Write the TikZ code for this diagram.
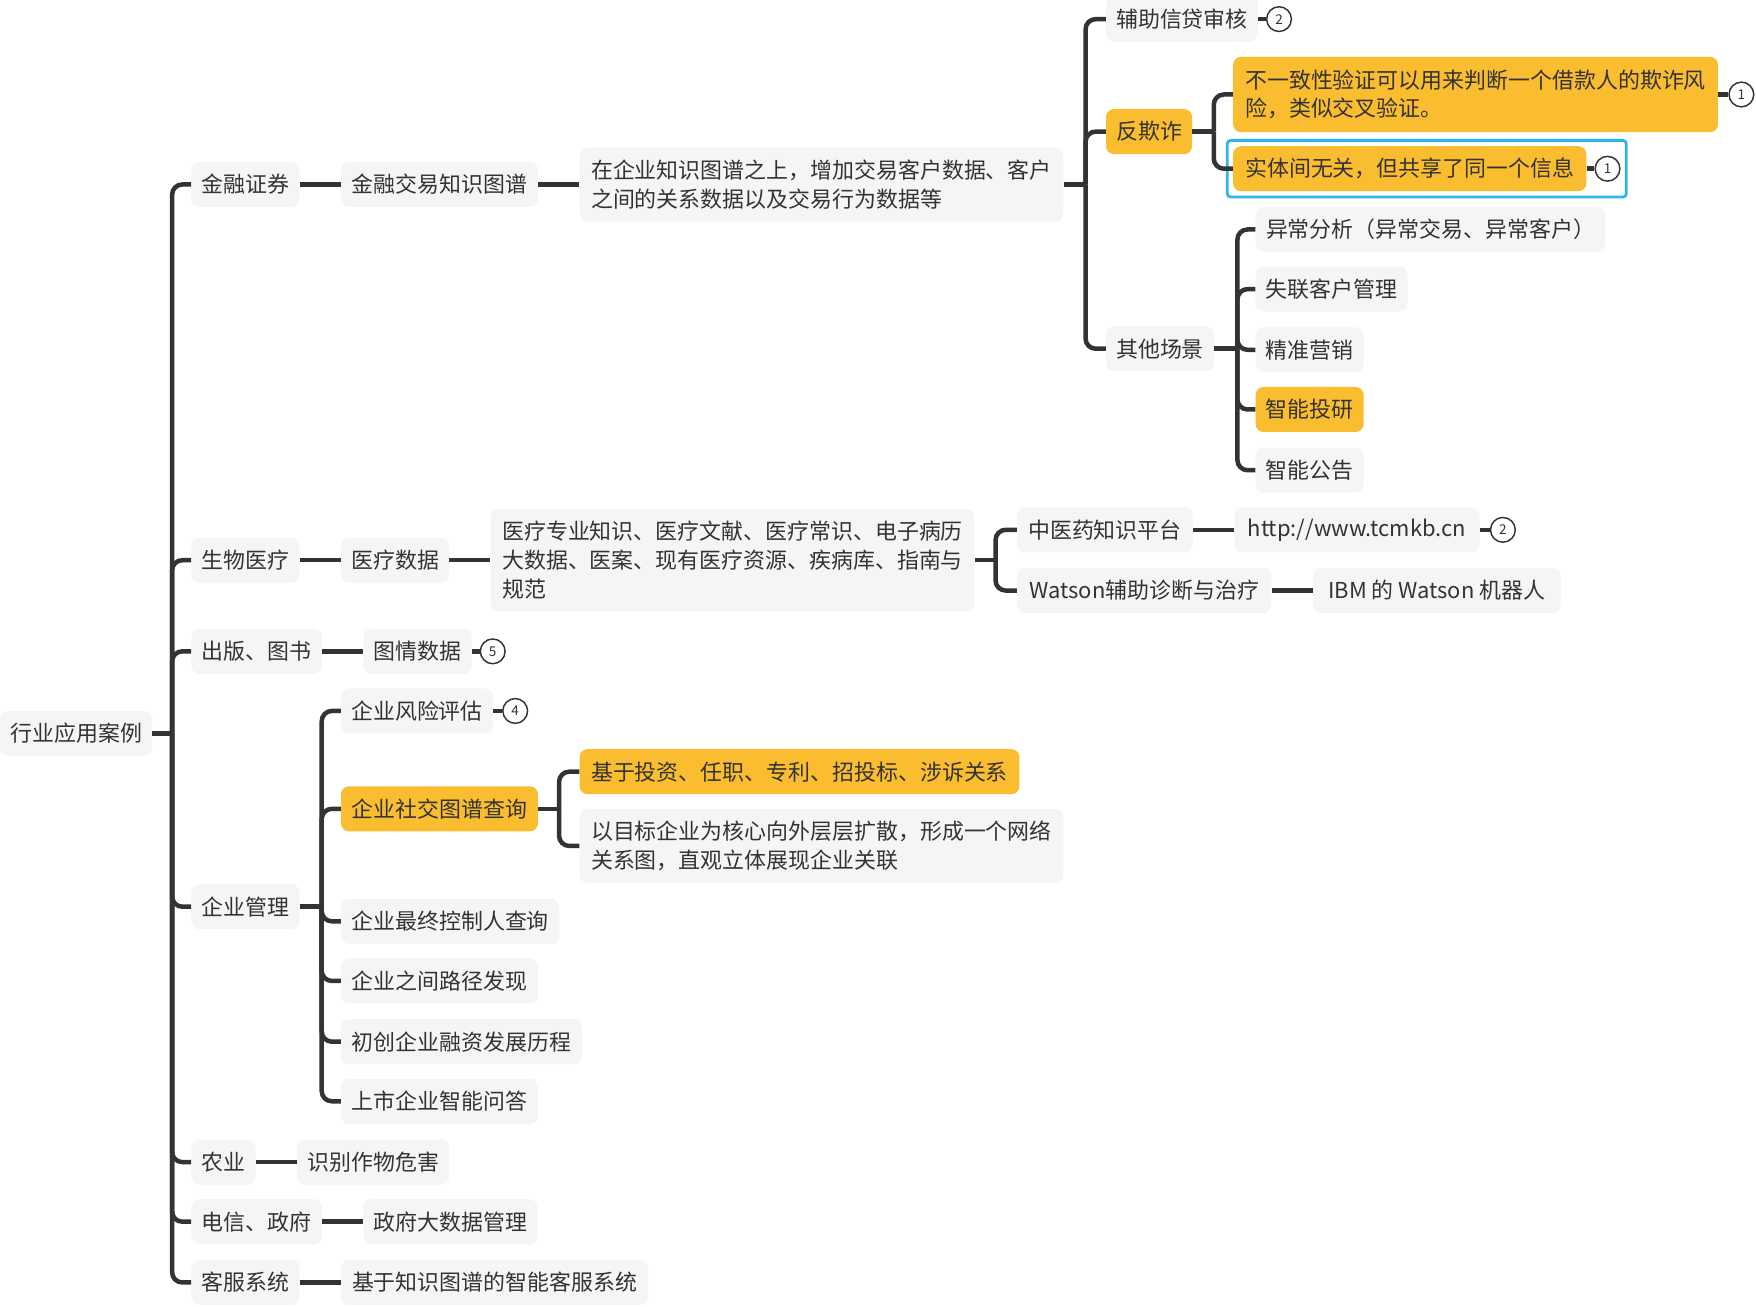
\documentclass[tikz,border=0pt]{standalone}
\usepackage{fontspec}
\setmainfont{Noto Sans CJK SC}
\usetikzlibrary{fit}
\definecolor{boxfill}{HTML}{F5F5F5}
\definecolor{orng}{HTML}{FBBD30}
\definecolor{txt}{HTML}{333333}
\definecolor{lnc}{HTML}{333333}
\definecolor{selblue}{HTML}{2DB6EA}
\tikzset{
 box/.style={draw=none, fill=boxfill, rounded corners=7pt, anchor=west, minimum height=40pt, inner xsep=9pt, inner ysep=4pt, text=txt, font=\fontsize{19.5pt}{25.5pt}\selectfont, align=left},
 obox/.style={box, fill=orng},
 conn/.style={draw=lnc, line width=4pt, rounded corners=9pt},
 badge/.style={circle, draw=lnc, line width=1.3pt, fill=white, minimum size=22pt, inner sep=0pt, font=\fontsize{12pt}{12pt}\selectfont, text=txt},
 sel/.style={draw=selblue, line width=2.5pt, rounded corners=3pt, inner sep=5pt},
}
\begin{document}
\begin{tikzpicture}[x=1pt,y=-1pt]
\useasboundingbox (0,0) rectangle (1561,1161);
% root
\node[box, minimum width=133] (root) at (0,652) {行业应用案例};
% level 1
\node[box, minimum width=95] (a1) at (170,164) {金融证券};
\node[box, minimum width=95] (a2) at (170,498) {生物医疗};
\node[box, minimum width=116] (a3) at (170,579) {出版、图书};
\node[box, minimum width=95] (a4) at (170,806) {企业管理};
\node[box, minimum width=56] (a5) at (170,1033) {农业};
\node[box, minimum width=116] (a6) at (170,1086) {电信、政府};
\node[box, minimum width=95] (a7) at (170,1140) {客服系统};
% finance
\node[box, minimum width=175] (b1) at (303,164) {金融交易知识图谱};
\node[box, minimum width=430, minimum height=66] (b1t) at (515,164) {在企业知识图谱之上，增加交易客户数据、客户\\之间的关系数据以及交易行为数据等};
\node[box, minimum width=135] (e1) at (983,17) {辅助信贷审核};
\node[badge] (be1) at (1137,17) {2};
\node[obox, minimum width=75] (e2) at (983,117) {反欺诈};
\node[obox, minimum width=431, minimum height=67] (e21) at (1096,84) {不一致性验证可以用来判断一个借款人的欺诈风\\险，类似交叉验证。};
\node[badge] (be21) at (1548,84) {1};
\node[obox, minimum width=314] (e22) at (1096,150) {实体间无关，但共享了同一个信息};
\node[badge] (be22) at (1429,150) {1};
\node[sel, fit=(e22)(be22)] (selrect) {};
\node[box, minimum width=95] (e3) at (983,310) {其他场景};
\node[box, minimum width=311] (f1) at (1116,204) {异常分析（异常交易、异常客户）};
\node[box, minimum width=133] (f2) at (1116,257) {失联客户管理};
\node[box, minimum width=94] (f3) at (1116,311) {精准营销};
\node[obox, minimum width=94] (f4) at (1116,364) {智能投研};
\node[box, minimum width=94] (f5) at (1116,418) {智能公告};
% medical
\node[box, minimum width=95] (b2) at (303,498) {医疗数据};
\node[box, minimum width=430, minimum height=91] (b2t) at (436,498) {医疗专业知识、医疗文献、医疗常识、电子病历\\大数据、医案、现有医疗资源、疾病库、指南与\\规范};
\node[box, minimum width=156] (g1) at (904,471) {中医药知识平台};
\node[box, minimum width=218] (g11) at (1097,471) {http://www.tcmkb.cn};
\node[badge] (bg11) at (1336,471) {2};
\node[box, minimum width=226] (g2) at (904,525) {Watson辅助诊断与治疗};
\node[box, minimum width=220] (g21) at (1167,525) {IBM 的 Watson 机器人};
% publishing
\node[box, minimum width=95] (b3) at (323,579) {图情数据};
\node[badge] (bb3) at (438,579) {5};
% enterprise
\node[box, minimum width=134] (c1) at (303,632) {企业风险评估};
\node[badge] (bc1) at (458,632) {4};
\node[obox, minimum width=175] (c2) at (303,719) {企业社交图谱查询};
\node[obox, minimum width=391] (c21) at (515,686) {基于投资、任职、专利、招投标、涉诉关系};
\node[box, minimum width=430, minimum height=66] (c22) at (515,752) {以目标企业为核心向外层层扩散，形成一个网络\\关系图，直观立体展现企业关联};
\node[box, minimum width=194] (c3) at (303,819) {企业最终控制人查询};
\node[box, minimum width=175] (c4) at (303,872) {企业之间路径发现};
\node[box, minimum width=214] (c5) at (303,926) {初创企业融资发展历程};
\node[box, minimum width=175] (c6) at (303,979) {上市企业智能问答};
% others
\node[box, minimum width=134] (d1) at (264,1033) {识别作物危害};
\node[box, minimum width=154] (d2) at (323,1086) {政府大数据管理};
\node[box, minimum width=273] (d3) at (303,1140) {基于知识图谱的智能客服系统};

% trunk coordinates
\coordinate (T0) at (153,652);
\coordinate (T1) at (965,164);
\coordinate (T2) at (1079,117);
\coordinate (T3) at (1100,310);
\coordinate (T4) at (885,498);
\coordinate (T5) at (286,806);
\coordinate (T6) at (497,719);

% connectors
\draw[conn] (root.east) -- (T0);
\foreach \c in {a1,a2,a3,a4,a5,a6,a7} \draw[conn] (T0) |- (\c.west);
\draw[conn] (a1) -- (b1);
\draw[conn] (b1) -- (b1t);
\draw[conn] (b1t.east) -- (T1);
\foreach \c in {e1,e2,e3} \draw[conn] (T1) |- (\c.west);
\draw[conn] (e2.east) -- (T2);
\foreach \c in {e21,e22} \draw[conn] (T2) |- (\c.west);
\draw[conn] (e3.east) -- (T3);
\foreach \c in {f1,f2,f3,f4,f5} \draw[conn] (T3) |- (\c.west);
\draw[conn] (e1) -- (be1);
\draw[conn] (e21) -- (be21);
\draw[conn] (e22) -- (be22);
\draw[conn] (a2) -- (b2);
\draw[conn] (b2) -- (b2t);
\draw[conn] (b2t.east) -- (T4);
\foreach \c in {g1,g2} \draw[conn] (T4) |- (\c.west);
\draw[conn] (g1) -- (g11);
\draw[conn] (g11) -- (bg11);
\draw[conn] (g2) -- (g21);
\draw[conn] (a3) -- (b3);
\draw[conn] (b3) -- (bb3);
\draw[conn] (a4.east) -- (T5);
\foreach \c in {c1,c2,c3,c4,c5,c6} \draw[conn] (T5) |- (\c.west);
\draw[conn] (c1) -- (bc1);
\draw[conn] (c2.east) -- (T6);
\foreach \c in {c21,c22} \draw[conn] (T6) |- (\c.west);
\draw[conn] (a5) -- (d1);
\draw[conn] (a6) -- (d2);
\draw[conn] (a7) -- (d3);
\end{tikzpicture}
\end{document}
